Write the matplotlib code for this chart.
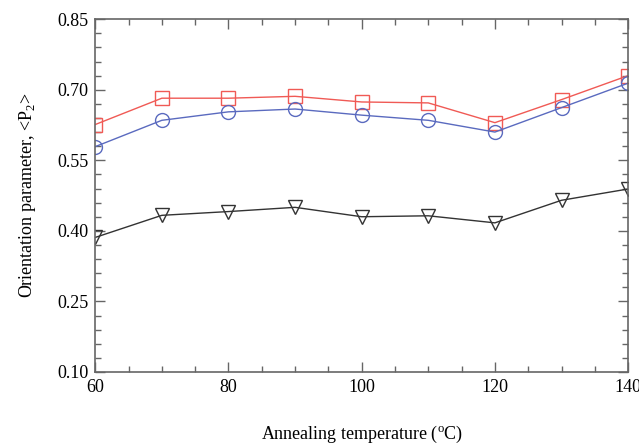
import numpy as np
import matplotlib
matplotlib.use("Agg")
import matplotlib.pyplot as plt
from matplotlib.ticker import FixedLocator, MultipleLocator, FormatStrFormatter

plt.rcParams['font.family'] = ['Liberation Serif', 'DejaVu Serif']
plt.rcParams['mathtext.fontset'] = 'custom'
plt.rcParams['mathtext.rm'] = 'Liberation Serif'

temperature = [60, 70, 80, 90, 100, 110, 120, 130, 140]
p2_squares = [0.626, 0.682, 0.682, 0.686, 0.674, 0.672, 0.630, 0.679, 0.730]
p2_circles = [0.579, 0.635, 0.653, 0.659, 0.646, 0.635, 0.610, 0.662, 0.714]
p2_triangles = [0.386, 0.433, 0.441, 0.450, 0.430, 0.432, 0.417, 0.465, 0.489]
y_major = [0.10, 0.25, 0.40, 0.55, 0.70, 0.85]

fig = plt.figure(figsize=(6.39, 4.46), dpi=100)
ax = fig.add_axes([0.149, 0.166, 0.834, 0.791])

ax.plot(temperature, p2_squares, color='#f05a55', lw=1.0, marker='s', ms=10,
        mfc='none', mec='#f05a55', mew=1.0)
ax.plot(temperature, p2_circles, color='#5a6abf', lw=1.0, marker='o', ms=10,
        mfc='none', mec='#5a6abf', mew=1.0)
ax.plot(temperature, p2_triangles, color='#333333', lw=1.0, marker='v', ms=10,
        mfc='none', mec='#333333', mew=1.0)

ax.set_xlim(60, 140)
ax.set_ylim(0.10, 0.85)
ax.xaxis.set_major_locator(MultipleLocator(20))
ax.xaxis.set_minor_locator(MultipleLocator(5))
ax.yaxis.set_major_locator(FixedLocator(y_major))
ax.yaxis.set_minor_locator(FixedLocator(np.arange(0.10, 0.851, 0.03)))
ax.yaxis.set_major_formatter(FormatStrFormatter('%.2f'))

for s in ax.spines.values():
    s.set_color('#666666')
    s.set_linewidth(1.2)
ax.tick_params(which='both', direction='in', top=True, right=True,
               color='#666666', labelsize=13, width=1.0)
ax.tick_params(which='major', length=7, pad=5)
ax.tick_params(which='minor', length=4)

ax.set_xlabel('Annealing temperature ($^{\\rm o}$C)', fontsize=13, labelpad=20)
ax.set_ylabel('Orientation parameter, <P$_2$>', fontsize=13, labelpad=14)

fig.savefig('out.png', dpi=100)
